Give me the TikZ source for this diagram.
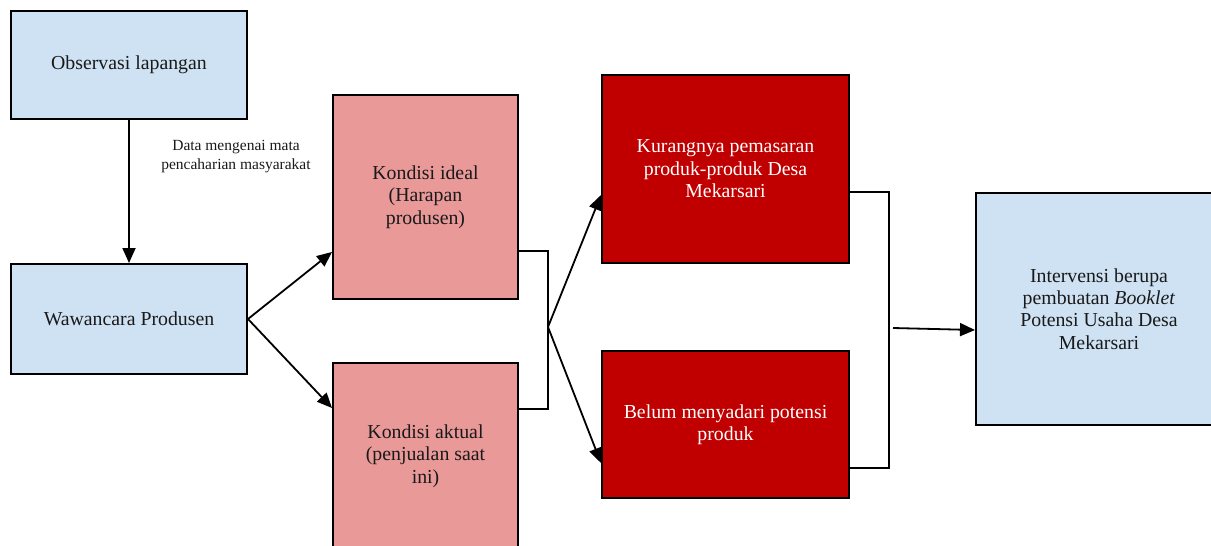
\documentclass[tikz,border=0pt]{standalone}
\usepackage{fontspec}
\setmainfont{Liberation Serif}
\usetikzlibrary{arrows.meta,calc}
\definecolor{lblue}{HTML}{CFE2F3}
\definecolor{lpink}{HTML}{EA9999}
\definecolor{dred}{HTML}{C00000}
\begin{document}
\begin{tikzpicture}[x=1pt,y=-1pt,
 box/.style={draw=black, line width=2pt, rectangle, align=center, inner sep=0pt, font=\fontsize{19.8}{22.4}\selectfont, anchor=north west, text=black!90},
 arr/.style={line width=1.8pt, -{Triangle[length=15pt,width=13pt]}},
 ln/.style={line width=1.8pt},
 lbl/.style={align=center, font=\fontsize{15.5}{19}\selectfont, text=black!90}]
\useasboundingbox (0,0) rectangle (1211,546);
\node[box, fill=lblue, minimum width=236pt, minimum height=108pt] (obs) at (10,10) {Observasi lapangan};
\node[box, fill=lblue, minimum width=236pt, minimum height=110pt] (waw) at (10,263) {Wawancara Produsen};
\node[box, fill=lpink, minimum width=185pt, minimum height=204pt] (ideal) at (332,94) {Kondisi ideal\\(Harapan\\produsen)};
\node[box, fill=lpink, minimum width=185pt, minimum height=186pt] (akt) at (332,362) {Kondisi aktual\\(penjualan saat\\ini)};
\node[box, fill=dred, text=white, minimum width=247pt, minimum height=188pt] (kur) at (601,74) {Kurangnya pemasaran\\produk-produk Desa\\Mekarsari};
\node[box, fill=dred, text=white, minimum width=247pt, minimum height=147pt] (bel) at (601,350) {Belum menyadari potensi\\produk};
\node[box, fill=lblue, minimum width=246pt, minimum height=232pt] (int) at (975,192) {Intervensi berupa\\pembuatan \textit{Booklet}\\Potensi Usaha Desa\\Mekarsari};
\node[lbl] (data) at (236,157) {Data mengenai mata\\pencaharian masyarakat};
\coordinate (j1) at (548,327);
\coordinate (j2) at (893,328);
\draw[arr] (obs.south) -- (waw.north);
\draw[arr] (waw.east) -- (ideal.west |- 0,252);
\draw[arr] (waw.east) -- (akt.west |- 0,408);
\draw[ln] (ideal.east |- 0,251) -| (j1) |- (akt.east |- 0,409);
\draw[arr] (j1) -- (kur.west |- 0,195);
\draw[arr] (j1) -- (bel.west |- 0,463);
\draw[ln] (kur.east |- 0,192) -| (889,468) -- (bel.east |- 0,468);
\draw[arr] (j2) -- (int.west |- 0,330);
\end{tikzpicture}
\end{document}
